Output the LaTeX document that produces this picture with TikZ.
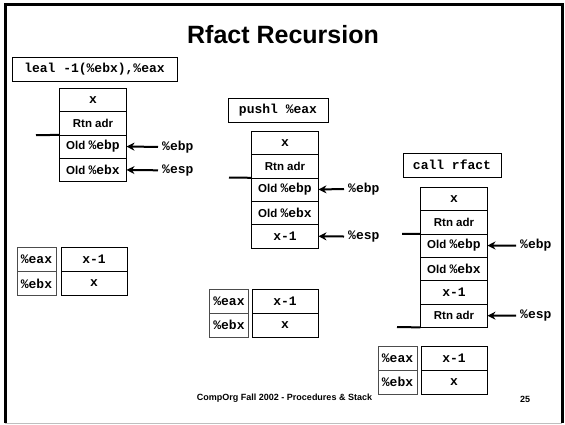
\documentclass[tikz,border=0pt]{standalone}
\usepackage{fontspec}
\setmainfont{Liberation Sans}
\setmonofont{Liberation Mono}
\usepackage{tikz}
\usetikzlibrary{arrows.meta,positioning}
\tikzstyle{arrow} = [line width=2pt,-{Stealth[length=8pt,width=8pt]}]
\newcommand{\regtxt}[1]{{\fontsize{13}{14}\selectfont\ttfamily\bfseries #1}}

\begin{document}
\begin{tikzpicture}[x=1pt, y=-1pt,
    cell/.style={draw, rectangle, minimum width=67pt, minimum height=23.4pt, inner sep=0pt, outer sep=0pt, font=\fontsize{11.5}{13}\selectfont\bfseries},
    instr/.style={draw, rectangle, minimum height=24pt, inner sep=0pt, font=\fontsize{13}{14}\selectfont\ttfamily\bfseries},
    reg/.style={draw=black!70, rectangle, minimum width=39pt, minimum height=24pt, inner sep=0pt, outer sep=0pt, font=\fontsize{13}{14}\selectfont\ttfamily\bfseries},
    val/.style={draw, rectangle, minimum width=66pt, minimum height=24pt, inner sep=0pt, outer sep=0pt, font=\fontsize{13}{14}\selectfont\ttfamily\bfseries},
    ptr/.style={anchor=west, inner sep=4pt, font=\fontsize{13}{14}\selectfont\ttfamily\bfseries}
]
\useasboundingbox (0,0) rectangle (565,424);
% slide frame
\draw[line width=3pt] (5,423) -- (5,4) -- (562,4) -- (562,423);
\draw[black!25] (5,423) -- (562,423);

\node[font=\fontsize{25}{30}\selectfont\bfseries] (title) at (283,35) {Rfact Recursion};

% step 1: leal
\node[instr, minimum width=165pt] (leal) at (94.5,69) {leal -1(\%ebx),\%eax};
\node[cell] (s1a) at (93,99.75) {\regtxt{x}};
\node[cell, below=0pt of s1a] (s1b) {Rtn adr};
\node[cell, below=0pt of s1b] (s1c) {Old \regtxt{\%ebp}};
\node[cell, below=0pt of s1c] (s1d) {Old \regtxt{\%ebx}};
\coordinate (f1) at (36,135.2);
\draw[line width=2pt] (f1) -- (s1c.north west);
\node[ptr] (ebp1) at (158,146.9) {\%ebp};
\node[ptr] (esp1) at (158,170.3) {\%esp};
\draw[arrow] (ebp1.west) -- (s1c.east);
\draw[arrow] (esp1.west) -- (s1d.east);

\node[reg] (eax1) at (36.5,259.5) {\%eax};
\node[reg] (ebx1) at (36.5,283.5) {\%ebx};
\node[val] (eaxv1) at (94,259.5) {x-1};
\node[val] (ebxv1) at (94,283.5) {x};

% step 2: pushl
\node[instr, minimum width=100pt] (push) at (278,110) {pushl \%eax};
\node[cell] (s2a) at (285,142.7) {\regtxt{x}};
\node[cell, below=0pt of s2a] (s2b) {Rtn adr};
\node[cell, below=0pt of s2b] (s2c) {Old \regtxt{\%ebp}};
\node[cell, below=0pt of s2c] (s2d) {Old \regtxt{\%ebx}};
\node[cell, below=0pt of s2d] (s2e) {\regtxt{x-1}};
\coordinate (f2) at (229,177.5);
\draw[line width=2pt] (f2) -- (s2c.north west);
\node[ptr] (ebp2) at (344,189) {\%ebp};
\node[ptr] (esp2) at (344,236.5) {\%esp};
\draw[arrow] (ebp2.west) -- (s2c.east);
\draw[arrow] (esp2.west) -- (s2e.east);

\node[reg] (eax2) at (229,301) {\%eax};
\node[reg] (ebx2) at (229,325) {\%ebx};
\node[val] (eaxv2) at (285,301) {x-1};
\node[val] (ebxv2) at (285,325) {x};

% step 3: call
\node[instr, minimum width=98pt] (call) at (452,165) {call rfact};
\node[cell] (s3a) at (454,198.7) {\regtxt{x}};
\node[cell, below=0pt of s3a] (s3b) {Rtn adr};
\node[cell, below=0pt of s3b] (s3c) {Old \regtxt{\%ebp}};
\node[cell, below=0pt of s3c] (s3d) {Old \regtxt{\%ebx}};
\node[cell, below=0pt of s3d] (s3e) {\regtxt{x-1}};
\node[cell, below=0pt of s3e] (s3f) {Rtn adr};
\coordinate (f3) at (402,233.8);
\coordinate (f4) at (397,327);
\draw[line width=2pt] (f3) -- (s3c.north west);
\draw[line width=2pt] (f4) -- (s3f.south west);
\node[ptr] (ebp3) at (516,245.5) {\%ebp};
\node[ptr] (esp3) at (516,315.5) {\%esp};
\draw[arrow] (ebp3.west) -- (s3c.east);
\draw[arrow] (esp3.west) -- (s3f.east);

\node[reg] (eax3) at (397.5,358) {\%eax};
\node[reg] (ebx3) at (397.5,382) {\%ebx};
\node[val] (eaxv3) at (454,358) {x-1};
\node[val] (ebxv3) at (454,382) {x};

% footer
\node[font=\fontsize{9}{11}\selectfont\bfseries] (foot) at (284.5,398) {CompOrg Fall 2002 - Procedures \& Stack};
\node[font=\fontsize{9}{11}\selectfont\bfseries] (page) at (525,399) {25};
\end{tikzpicture}
\end{document}
